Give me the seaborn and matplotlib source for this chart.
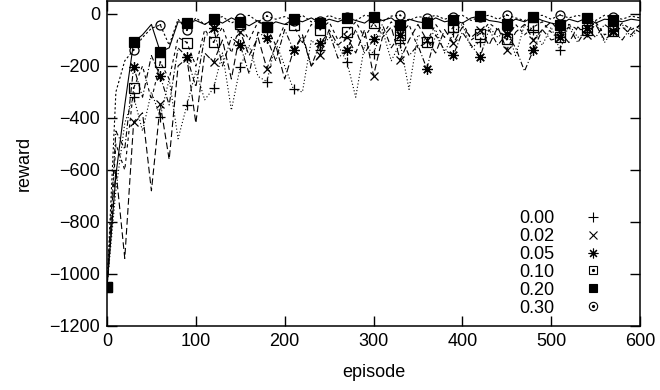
import numpy as np
import pandas as pd
import matplotlib
matplotlib.use("Agg")
import matplotlib.pyplot as plt
import seaborn as sns
from matplotlib.lines import Line2D
from matplotlib.legend_handler import HandlerTuple

sns.set_theme(style="ticks")
plt.rcParams['font.family'] = ['Liberation Sans', 'DejaVu Sans']
plt.rcParams['text.color'] = 'black'
plt.rcParams['axes.labelcolor'] = 'black'
plt.rcParams['xtick.color'] = 'black'
plt.rcParams['ytick.color'] = 'black'

episodes = list(range(0, 601, 10))

r000 = [-1050, -680, -420, -318, -450, -300, -395, -250, -480, -350,
        -220, -330, -285, -150, -370, -203, -120, -240, -260, -110,
        -200, -290, -300, -100, -138, -90, -120, -183, -320, -120,
        -152, -60, -180, -112, -290, -80, -107, -60, -150, -70,
        -40, -130, -107, -50, -90, -60, -160, -40, -60, -120,
        -50, -140, -40, -90, -70, -30, -110, -60, -40, -90, -50]
r002 = [-1050, -600, -940, -415, -380, -680, -347, -560, -200, -170,
        -420, -150, -185, -100, -250, -68, -160, -90, -210, -120,
        -250, -140, -80, -200, -158, -60, -120, -88, -150, -60,
        -238, -90, -50, -177, -100, -40, -100, -150, -60, -112,
        -50, -90, -60, -120, -50, -138, -70, -40, -100, -60,
        -30, -70, -110, -50, -80, -40, -100, -70, -50, -80, -40]
r005 = [-1050, -450, -520, -203, -320, -160, -240, -350, -130, -165,
        -280, -90, -55, -200, -90, -120, -230, -70, -93, -180,
        -60, -138, -90, -200, -112, -70, -170, -138, -60, -150,
        -98, -40, -130, -80, -160, -120, -210, -80, -140, -158,
        -70, -120, -165, -60, -120, -75, -130, -220, -138, -60,
        -100, -90, -50, -110, -55, -90, -40, -65, -100, -50, -70]
r010 = [-1050, -500, -600, -285, -200, -330, -185, -250, -90, -110,
        -200, -60, -108, -50, -150, -40, -100, -30, -50, -120,
        -40, -42, -110, -40, -60, -30, -100, -68, -30, -90,
        -35, -80, -30, -80, -40, -130, -107, -40, -90, -50,
        -30, -100, -75, -35, -60, -98, -40, -80, -50, -30,
        -70, -88, -40, -60, -60, -30, -80, -65, -35, -60, -45]
r020 = [-1050, -620, -350, -108, -80, -40, -146, -130, -30, -35,
        -25, -40, -20, -35, -15, -30, -45, -25, -50, -30,
        -40, -20, -30, -15, -35, -20, -30, -15, -25, -35,
        -10, -25, -15, -42, -20, -30, -35, -15, -30, -23,
        -35, -15, -8, -25, -30, -38, -20, -30, -10, -25,
        -35, -42, -20, -30, -15, -35, -20, -23, -30, -20, -25]
r030 = [-1050, -300, -180, -138, -90, -55, -42, -120, -20, -62,
        -15, -40, -20, -10, -35, -15, -5, -30, -8, -20,
        -10, -25, -5, -30, -25, -5, -20, -10, -25, -5,
        -10, -30, -8, -5, -25, -10, -15, -5, -20, -10,
        -5, -25, -10, -5, -20, -4, -15, -25, -10, -5,
        -20, -4, -15, -5, -15, -25, -5, -12, -20, -8, -15]

labels = ["0.00", "0.02", "0.05", "0.10", "0.20", "0.30"]
series = [r000, r002, r005, r010, r020, r030]
dash_styles = [(0, (1, 2)), (0, (6, 3)), (0, (5, 2, 1, 2)),
               (0, (3, 3)), '-', (0, (2, 2))]
markers = ['+', 'x', (8, 2, 0), 's', 's', 'o']
face = ['none', 'none', 'none', 'none', 'black', 'none']
msizes = [7.5, 6, 7.5, 6.5, 6.5, 6.5]
leg_sizes = [7, 6, 7, 6, 6, 6]
center_dot = [False, False, False, True, False, True]

fig = plt.figure(figsize=(6.6, 3.9), dpi=100)
ax = fig.add_axes([107/660, 1-326/390, (640-107)/660, (326-1)/390])

mark_idx = list(range(0, 58, 3))
handles = []
for lab, vals, ls, mk, fc, ms, lms, dot in zip(labels, series, dash_styles, markers, face,
                                             msizes, leg_sizes, center_dot):
    df = pd.DataFrame({"episode": episodes, "reward": vals})
    sns.lineplot(data=df, x="episode", y="reward", ax=ax, color="black",
                 linestyle=ls, linewidth=0.8, marker=mk, markevery=mark_idx,
                 markersize=ms, markerfacecolor=fc, markeredgecolor="black",
                 markeredgewidth=0.9, legend=False)
    h = Line2D([], [], linestyle='none', marker=mk, markersize=lms,
               markerfacecolor=fc, markeredgecolor='black', markeredgewidth=0.8, color='black')
    if dot:
        sub = df.iloc[mark_idx]
        sns.scatterplot(x=sub["episode"], y=sub["reward"], ax=ax, marker='o',
                        s=2, color='black', edgecolor='none', legend=False)
        d = Line2D([], [], linestyle='none', marker='o', markersize=1.3, color='black')
        handles.append((h, d))
    else:
        handles.append(h)

ax.set_xlim(0, 600)
ax.set_ylim(-1200, 50)
ax.set_xticks(range(0, 601, 100))
ax.set_yticks(range(-1200, 1, 200))
ax.tick_params(direction='in', top=True, right=True, length=7, width=1,
               labelsize=13, pad=5, colors='black')
for s in ax.spines.values():
    s.set_linewidth(1.1)
    s.set_color('black')
ax.set_xlabel("episode", fontsize=13, labelpad=10)
ax.set_ylabel("reward", fontsize=13, labelpad=12)

leg = ax.legend(handles, labels, loc='lower right', bbox_to_anchor=(0.952, -0.01),
                frameon=False, markerfirst=False, fontsize=13, labelspacing=0.05,
                handlelength=1.0, handletextpad=1.6, borderpad=0.2,
                handler_map={tuple: HandlerTuple(ndivide=1, pad=0)})
for t in leg.get_texts():
    t.set_ha('right')
    t.set_color('black')

fig.savefig("out.png", dpi=100)
